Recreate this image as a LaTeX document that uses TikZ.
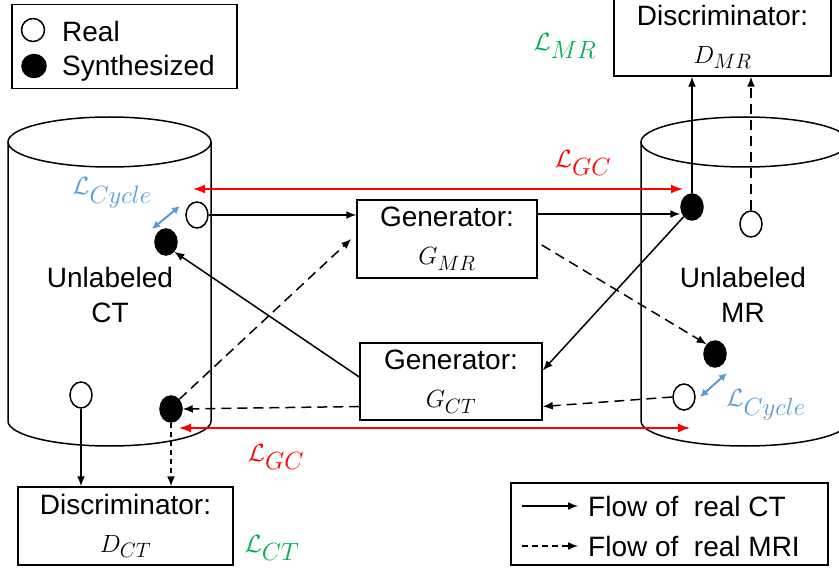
\documentclass[tikz,border=0pt]{standalone}
\usepackage{fontspec}
\setmainfont{Liberation Sans}
\usetikzlibrary{arrows.meta,shapes.geometric,positioning}
\definecolor{lossRed}{RGB}{255,0,0}
\definecolor{lossBlue}{RGB}{91,155,213}
\definecolor{lossGreen}{RGB}{0,176,80}

\begin{document}
\begin{tikzpicture}[x=1pt,y=-1pt,
  every node/.style={font=\fontsize{28}{38}\selectfont},
  box/.style={draw,line width=1.5pt,align=center,inner sep=0pt},
  dot/.style={draw,ellipse,line width=1.5pt,minimum width=22pt,minimum height=26pt,inner sep=0pt},
  flow/.style={line width=1.5pt,-{Latex[length=10pt,width=8pt]}},
  mriflow/.style={flow,dash pattern=on 10pt off 6pt},
  gcloss/.style={lossRed,line width=1.5pt,{Latex[length=12pt,width=9pt]}-{Latex[length=12pt,width=9pt]}},
  cycloss/.style={lossBlue,line width=2pt,{Latex[length=8pt,width=8pt]}-{Latex[length=8pt,width=8pt]}},
  loss/.style={font=\fontsize{33}{36}\selectfont}]

\useasboundingbox (0,0) rectangle (839,572);

\def\cylTop{142}
\def\cylBot{421}
\def\cylRy{25}

% draw the two data cylinders
\foreach \cx/\rx in {109.5/101.5, 745/104}
{
\draw [line width=1.5pt] (\cx,\cylTop) ellipse [x radius=\rx, y radius=\cylRy];
\draw [line width=1.5pt] ({\cx-\rx},\cylTop) -- ({\cx-\rx},\cylBot)
   arc [start angle=180, end angle=0, x radius=\rx, y radius=\cylRy] -- ({\cx+\rx},\cylTop);
}
\node [align=center,font=\fontsize{28}{35}\selectfont] (ctName) at (110,295) {Unlabeled\\CT};
\node [align=center,font=\fontsize{28}{35}\selectfont] (mrName) at (743,295) {Unlabeled\\MR};

% draw the generators and discriminators
\node [box,minimum width=180pt,minimum height=78pt] (gMR) at (447,239) {Generator:\\$G_{MR}$};
\node [box,minimum width=182pt,minimum height=77pt] (gCT) at (451,381.5) {Generator:\\$G_{CT}$};
\node [box,minimum width=217pt,minimum height=78pt] (dMR) at (722.5,37) {Discriminator:\\$D_{MR}$};
\node [box,minimum width=215pt,minimum height=78pt] (dCT) at (125.5,526) {Discriminator:\\$D_{CT}$};

% draw the images (real = white, synthesized = black)
\foreach \name/\x/\y/\c in {ctRealA/197/215/white, ctSynA/166/242/black,
                            ctRealB/81/395/white, ctSynB/171/409/black,
                            mrSynA/692/207/black, mrRealA/751/224/white,
                            mrSynB/715/354/black, mrRealB/684/397/white}
  \node [dot,fill=\c] (\name) at (\x,\y) {};

% flow of real CT
\draw [flow] (ctRealA.east) -- (gMR.west |- ctRealA.east);
\draw [flow] ([yshift=25pt]gMR.east) -- ([yshift=25pt]gMR.east -| mrSynA.west);
\draw [flow] (mrSynA.north) -- (mrSynA |- dMR.south);
\draw [flow] (mrSynA.south west) -- ([yshift=11pt]gCT.east);
\draw [flow] ([yshift=4.5pt]gCT.west) -- (ctSynA.south east);
\draw [flow] (ctRealB.south) -- (ctRealB |- dCT.north);

% flow of real MRI
\draw [mriflow] (mrRealA.north) -- (mrRealA |- dMR.south);
\draw [mriflow] (mrRealB.west) -- ([yshift=-25pt]gCT.east);
\draw [mriflow] ([yshift=-25pt]gCT.west) -- (ctSynB.east);
\draw [mriflow] (ctSynB.north east) -- ([xshift=-5pt]gMR.west);
\draw [mriflow] ([xshift=4pt,yshift=-6pt]gMR.east) -- (mrSynB.north west);
\draw [mriflow,dash pattern=on 5pt off 4pt] (ctSynB.south) -- (ctSynB |- dCT.north);

% draw the losses
\coordinate (gcTopL) at (193,189);
\coordinate (gcTopR) at (683,189);
\coordinate (gcBotL) at (179,428);
\coordinate (gcBotR) at (690,428);
\draw [gcloss] (gcTopL) -- (gcTopR);
\draw [gcloss] (gcBotL) -- (gcBotR);
\coordinate (cycCtA) at (152,229);
\coordinate (cycCtB) at (180,206);
\coordinate (cycMrA) at (700,397);
\coordinate (cycMrB) at (727,373);
\draw [cycloss] (cycCtA) -- (cycCtB);
\draw [cycloss] (cycMrA) -- (cycMrB);

\node [loss,text=lossRed]   (gcTop) at (583,163) {$\mathcal{L}_{GC}$};
\node [loss,text=lossRed]   (gcBot) at (276,457) {$\mathcal{L}_{GC}$};
\node [loss,text=lossBlue]  (cycCt) at (112,193) {$\mathcal{L}_{Cycle}$};
\node [loss,text=lossBlue]  (cycMr) at (766,405) {$\mathcal{L}_{Cycle}$};
\node [loss,text=lossGreen] (advMR) at (565,46)  {$\mathcal{L}_{MR}$};
\node [loss,text=lossGreen] (advCT) at (272,548) {$\mathcal{L}_{CT}$};

% draw the legends
\node [box,minimum width=225pt,minimum height=84pt] (legDots) at (124.5,46.5) {};
\node [dot,minimum width=23pt,minimum height=23pt] (legReal) at (33,30) {};
\node [dot,fill=black,minimum width=24pt,minimum height=23pt] (legSyn) at (34,66) {};
\node [anchor=base west,inner sep=0pt] (legRealTxt) at (62,42) {Real};
\node [anchor=base west,inner sep=0pt] (legSynTxt) at (62,76) {Synthesized};

\node [box,minimum width=317pt,minimum height=82pt] (legFlow) at (669.5,524) {};
\coordinate (legCtA) at (522,506);
\coordinate (legCtB) at (578,506);
\coordinate (legMrA) at (522,546);
\coordinate (legMrB) at (578,546);
\draw [flow] (legCtA) -- (legCtB);
\draw [mriflow,dash pattern=on 6pt off 4pt] (legMrA) -- (legMrB);
\node [anchor=west,inner sep=0pt] (legCtTxt) at (588,506) {Flow of~~real CT};
\node [anchor=west,inner sep=0pt] (legMrTxt) at (588,546) {Flow of~~real MRI};

\end{tikzpicture}
\end{document}
